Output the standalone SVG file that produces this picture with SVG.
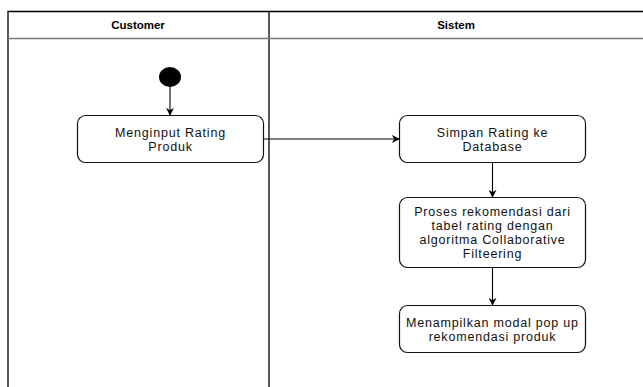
<svg xmlns="http://www.w3.org/2000/svg" width="643" height="387" viewBox="0 0 643 387">
  <style>
    .lane { fill: none; stroke: #000; stroke-width: 1.3; }
    .sep { stroke: #777; stroke-width: 1.5; }
    .box { fill: #fff; stroke: #111; stroke-width: 1.2; }
    .head { font-family: "Liberation Sans", Arial, sans-serif; font-size: 11.5px; font-weight: bold; text-anchor: middle; fill: #000; }
    .lbl { font-family: "Liberation Sans", Arial, sans-serif; font-size: 12.5px; letter-spacing: 0.8px; text-anchor: middle; fill: #111; }
    .edge { fill: none; stroke: #000; stroke-width: 1.1; marker-end: url(#arrow); }
  </style>
  <defs>
    <marker id="arrow" viewBox="0 0 10 10" refX="9" refY="5" markerWidth="8" markerHeight="8" markerUnits="userSpaceOnUse" orient="auto">
      <path d="M0,0 L10,5 L0,10 L3,5 Z" fill="#000"/>
    </marker>
  </defs>
  <rect width="643" height="387" fill="#fff"/>

  <!-- swimlanes -->
  <g id="lanes">
    <path class="lane" d="M8,387 V11.5 H643"/>
    <line class="lane" x1="269" y1="11.5" x2="269" y2="387"/>
    <line class="sep" x1="8" y1="38.5" x2="643" y2="38.5"/>
    <text class="head" x="138" y="29">Customer</text>
    <text class="head" x="456" y="29">Sistem</text>
  </g>

  <g id="start">
    <ellipse cx="170" cy="77" rx="11" ry="10" fill="#000"/>
  </g>

  <g id="input-rating">
    <rect class="box" x="77.5" y="115.5" width="186" height="47" rx="8"/>
    <text class="lbl" x="170.5" y="136.5">Menginput Rating</text>
    <text class="lbl" x="170.5" y="150.5">Produk</text>
  </g>

  <g id="simpan-rating">
    <rect class="box" x="399.5" y="115.5" width="186" height="47" rx="8"/>
    <text class="lbl" x="492.5" y="136.5">Simpan Rating ke</text>
    <text class="lbl" x="492.5" y="150.5">Database</text>
  </g>

  <g id="proses-rekomendasi">
    <rect class="box" x="399.5" y="197.5" width="186" height="70" rx="8"/>
    <text class="lbl" x="492.5" y="216">Proses rekomendasi dari</text>
    <text class="lbl" x="492.5" y="230">tabel rating dengan</text>
    <text class="lbl" x="492.5" y="244">algoritma Collaborative</text>
    <text class="lbl" x="492.5" y="258">Filteering</text>
  </g>

  <g id="tampil-modal">
    <rect class="box" x="399.5" y="305.5" width="186" height="47" rx="8"/>
    <text class="lbl" x="492.5" y="326.5">Menampilkan modal pop up</text>
    <text class="lbl" x="492.5" y="340.5">rekomendasi produk</text>
  </g>

  <g id="connectors">
    <path class="edge" d="M170,87 V115"/>
    <path class="edge" d="M263.5,139 H399"/>
    <path class="edge" d="M492.5,162.5 V197"/>
    <path class="edge" d="M492.5,267.5 V305"/>
  </g>
</svg>
